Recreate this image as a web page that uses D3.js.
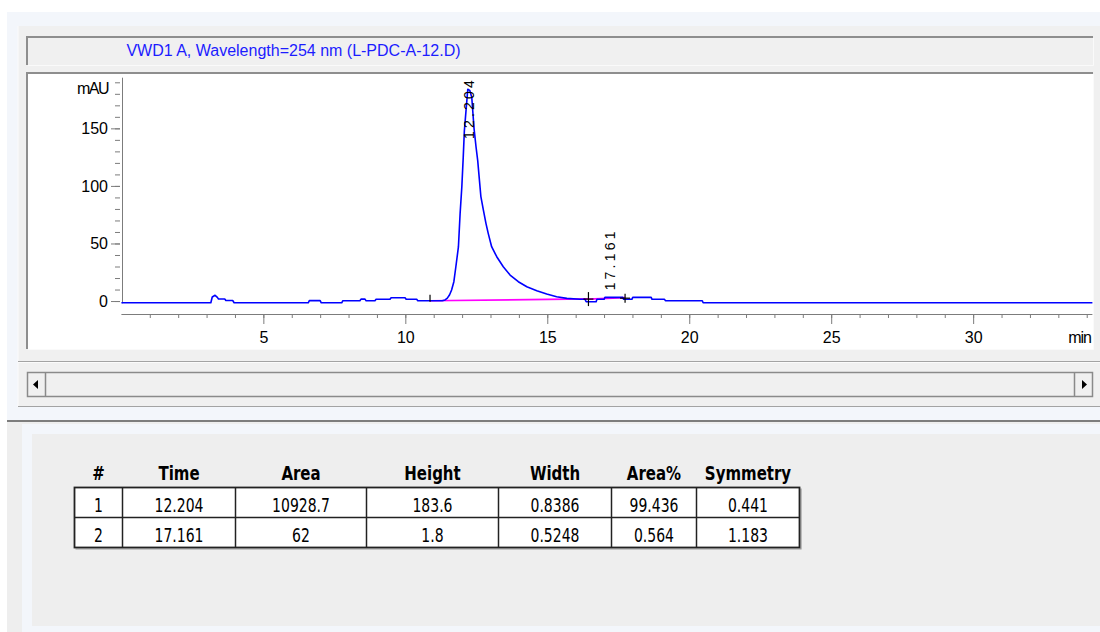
<!DOCTYPE html>
<html>
<head>
<meta charset="utf-8">
<script src="https://cdn.jsdelivr.net/npm/d3@7"></script>
<style>
  html, body { margin: 0; padding: 0; background: #ffffff; }
  svg { display: block; }
  .ax text { font-family: "Liberation Sans", Arial, sans-serif; font-size: 16px; fill: #000; }
  .ax line, .ax path { stroke: #7c7c7c; }
</style>
</head>
<body>
<svg id="chart" width="1100" height="632"></svg>
<script>
// ---- chromatogram trace: VWD1 A, 254 nm ----
const traceTime = [
  0, 3.15, 3.2, 3.3, 3.38, 3.42, 3.64, 3.68, 3.92, 3.97,
  6.58, 6.62, 7.0, 7.04, 7.76, 7.8, 8.4, 8.44, 8.58, 8.62,
  8.93, 8.97, 9.46, 9.5, 9.99, 10.03, 10.4, 10.44, 11.3, 11.4,
  11.48, 11.56, 11.63, 11.71, 11.78, 11.87, 11.93, 11.99, 12.04, 12.08,
  12.14, 12.2, 12.27, 12.34, 12.42, 12.49, 12.55, 12.61, 12.66, 12.75,
  12.84, 12.92, 13.04, 13.22, 13.45, 13.69, 13.98, 14.28, 14.63, 14.98,
  15.33, 15.69, 16.15, 16.33, 16.37, 16.72, 16.75, 17.0, 17.03, 17.66,
  17.69, 17.98, 18.01, 18.66, 18.69, 19.13, 19.16, 20.46, 20.49, 34.2
];
const traceMAU = [
  -1.5, -1.5, 3.5, 5.0, 3.2, 1.8, 1.8, 0.5, 0.5, -1.5,
  -1.5, 0.4, 0.4, -1.5, -1.5, 0.3, 0.3, 1.7, 1.7, 0.2,
  0.2, 1.5, 1.5, 2.9, 2.9, 1.5, 1.5, 0.2, 0.2, 1.0,
  2.5, 5.5, 9.6, 16.8, 29.8, 47, 76, 99, 125, 148,
  166, 184, 183, 177, 150, 134, 122, 105, 91, 79,
  67.5, 58.8, 47.2, 38.5, 29.8, 22.6, 16.8, 12.4, 9.0, 6.1,
  3.7, 2.3, 1.5, 1.5, -0.6, -0.6, 1.5, 1.5, 3.2, 3.2,
  1.5, 1.5, 3.2, 3.2, 1.5, 1.5, 0.3, 0.3, -1.5, -1.5
];

// ---- integration results ----
const peakNo = [1, 2];
const peakTime = [12.204, 17.161];
const peakArea = [10928.7, 62];
const peakHeight = [183.6, 1.8];
const peakWidth = [0.8386, 0.5248];
const peakAreaPct = [99.436, 0.564];
const peakSymmetry = [0.441, 1.183];

// integration baselines (start/end time, start/end mAU)
const baseStartT = [10.87, 16.45];
const baseEndT = [16.45, 17.74];
const baseStartV = [0.2, 1.7];
const baseEndV = [1.9, 3.0];

// axis ticks
const xMajorTicks = [5, 10, 15, 20, 25, 30];
const xMinorTicks = d3.range(1, 35, 1);
const yMajorTicks = [0, 50, 100, 150];
const yMinorTicks = d3.range(0, 200, 10);

const tableHeaders = ["#", "Time", "Area", "Height", "Width", "Area%", "Symmetry"];

const titleText = "VWD1 A, Wavelength=254 nm (L-PDC-A-12.D)";

// ---------------------------------------------------------------
const svg = d3.select("#chart");

// window / panel chrome
svg.append("rect").attr("x", 7).attr("y", 12).attr("width", 1093).attr("height", 410).attr("fill", "#f3f6fb");
svg.append("rect").attr("x", 18).attr("y", 26).attr("width", 1082).attr("height", 381).attr("fill", "#f0f0f0");
svg.append("line").attr("x1", 18).attr("x2", 18).attr("y1", 26).attr("y2", 407).attr("stroke", "#fbfbfb");

// sunken box helper
function sunken(x, y, w, h, fill) {
  svg.append("rect").attr("x", x).attr("y", y).attr("width", w).attr("height", h).attr("fill", fill);
  svg.append("path").attr("d", `M${x + w},${y + 1}H${x + 1}V${y + h}`)
    .attr("fill", "none").attr("stroke", "#8e8e8e").attr("stroke-width", 2);
  svg.append("path").attr("d", `M${x + 2},${y + h + 0.5}H${x + w + 0.5}V${y + 2}`)
    .attr("fill", "none").attr("stroke", "#fafafa").attr("stroke-width", 1);
}

// title strip
sunken(26, 36, 1067, 29, "#f0f0f0");
svg.append("text")
  .attr("x", 293.5).attr("y", 56)
  .attr("text-anchor", "middle")
  .attr("font-family", "Liberation Sans, Arial, sans-serif")
  .attr("font-size", 16)
  .attr("fill", "#1c1cff")
  .text(titleText);

// plot panel
sunken(26, 72, 1067, 277, "#ffffff");

// separators and scrollbar
svg.append("line").attr("x1", 18).attr("x2", 1100).attr("y1", 361.5).attr("y2", 361.5).attr("stroke", "#a3a3a3");
svg.append("line").attr("x1", 18).attr("x2", 1100).attr("y1", 362.5).attr("y2", 362.5).attr("stroke", "#fbfbfb");
svg.append("rect").attr("x", 27.5).attr("y", 372.5).attr("width", 1065).attr("height", 24)
  .attr("fill", "#f0f0f0").attr("stroke", "#8a8a8a").attr("stroke-width", 1.5);
svg.append("line").attr("x1", 45.5).attr("x2", 45.5).attr("y1", 373).attr("y2", 396).attr("stroke", "#8a8a8a").attr("stroke-width", 1.5);
svg.append("line").attr("x1", 1074.5).attr("x2", 1074.5).attr("y1", 373).attr("y2", 396).attr("stroke", "#8a8a8a").attr("stroke-width", 1.5);
svg.append("path").attr("d", "M33,384.5L38,380V389Z").attr("fill", "#000");
svg.append("path").attr("d", "M1087,384.5L1082,380V389Z").attr("fill", "#000");
svg.append("line").attr("x1", 18).attr("x2", 1100).attr("y1", 406.5).attr("y2", 406.5).attr("stroke", "#a3a3a3");
svg.append("line").attr("x1", 7).attr("x2", 1100).attr("y1", 421).attr("y2", 421).attr("stroke", "#7d7d7d").attr("stroke-width", 2);

// lower (results) panel
svg.append("rect").attr("x", 7).attr("y", 422).attr("width", 1093).attr("height", 210).attr("fill", "#eeeeee");
svg.append("rect").attr("x", 22).attr("y", 424).attr("width", 1078).attr("height", 208).attr("fill", "#f3f6fb");
svg.append("rect").attr("x", 32).attr("y", 434).attr("width", 1068).attr("height", 192).attr("fill", "#eeeeee");

// ---------------------------------------------------------------
// scales
const x = d3.scaleLinear().domain([0, 34.2]).range([121.4, 1092.4]);
const y = d3.scaleLinear().domain([-3, 194]).range([304.5, 77.7]);

const xAxisY = 314;
const yAxisX = 120;

// y axis: minor and major ticks, then the axis line
const gyMinor = svg.append("g").attr("class", "ax").attr("transform", `translate(${yAxisX},0)`)
  .call(d3.axisLeft(y).tickValues(yMinorTicks).tickSize(5).tickFormat(""));
gyMinor.select(".domain").remove();
const gyMajor = svg.append("g").attr("class", "ax").attr("transform", `translate(${yAxisX},0)`)
  .call(d3.axisLeft(y).tickValues(yMajorTicks).tickSize(9).tickPadding(3));
gyMajor.select(".domain").remove();
svg.append("line").attr("x1", 122.5).attr("x2", 122.5)
  .attr("y1", y.range()[1]).attr("y2", y(-2)).attr("stroke", "#7c7c7c");
svg.append("text").attr("class", "ax")
  .attr("x", 108).attr("y", 94).attr("text-anchor", "end")
  .attr("font-family", "Liberation Sans, Arial, sans-serif").attr("font-size", 16)
  .attr("letter-spacing", -1.5)
  .text("mAU");

// x axis
const gxMinor = svg.append("g").attr("class", "ax").attr("transform", `translate(0,${xAxisY})`)
  .call(d3.axisBottom(x).tickValues(xMinorTicks).tickSize(4).tickFormat(""));
gxMinor.select(".domain").remove();
const gxMajor = svg.append("g").attr("class", "ax").attr("transform", `translate(0,${xAxisY})`)
  .call(d3.axisBottom(x).tickValues(xMajorTicks).tickSize(10).tickPadding(8).tickFormat(d3.format("d")));
gxMajor.select(".domain").remove();
svg.append("line").attr("x1", x.range()[0]).attr("x2", x.range()[1])
  .attr("y1", xAxisY + 0.5).attr("y2", xAxisY + 0.5).attr("stroke", "#7c7c7c");
svg.append("text").attr("class", "ax")
  .attr("x", 1091).attr("y", 343).attr("text-anchor", "end")
  .attr("font-family", "Liberation Sans, Arial, sans-serif").attr("font-size", 16)
  .attr("letter-spacing", -1)
  .text("min");

// ---------------------------------------------------------------
// integration baselines
const baseSegs = baseStartT.map((t, i) => [[t, baseStartV[i]], [baseEndT[i], baseEndV[i]]]);
const segLine = d3.line().x(d => x(d[0])).y(d => y(d[1]));
svg.append("g").selectAll("path").data(baseSegs).join("path")
  .attr("d", segLine)
  .attr("fill", "none").attr("stroke", "#ff00ff").attr("stroke-width", 1.6);

// signal trace
const trace = traceTime.map((t, i) => [t, traceMAU[i]]);
svg.append("path").datum(trace)
  .attr("d", d3.line().x(d => x(d[0])).y(d => y(d[1])))
  .attr("fill", "none").attr("stroke", "#0000ff").attr("stroke-width", 1.6)
  .attr("stroke-linejoin", "round");

// peak start / end markers
const marks = svg.append("g").attr("stroke", "#000").attr("stroke-width", 1.2);
baseStartT.forEach((t, i) => {
  const px = x(t), py = y(baseStartV[i]);
  if (i === 0) {
    marks.append("line").attr("x1", px).attr("x2", px).attr("y1", py - 6).attr("y2", py + 1);
  }
});
baseEndT.forEach((t, i) => {
  const px = x(t), py = y(baseEndV[i] - (i === 0 ? 0.2 : 0.5));
  const h = i === 0 ? 7 : 4.5;
  marks.append("line").attr("x1", px).attr("x2", px).attr("y1", py - h).attr("y2", py + h);
  marks.append("line").attr("x1", px - 5).attr("x2", px + 5).attr("y1", py).attr("y2", py);
});

// retention time labels, rotated, placed above each apex (kept inside the plot)
const plotTop = 75;
peakTime.forEach((rt, i) => {
  // highest trace point near the retention time
  const near = trace.filter(d => Math.abs(d[0] - rt) < 0.6);
  const apex = d3.max(near, d => d[1]);
  const label = svg.append("text")
    .attr("font-family", "Liberation Sans, Arial, sans-serif")
    .attr("font-size", 14)
    .attr("letter-spacing", 3.2)
    .attr("fill", "#000")
    .attr("dy", "0.36em")
    .text(rt.toFixed(3));
  const len = label.node().getComputedTextLength();
  const bottom = Math.max(y(apex) - 7, plotTop + len + 2);
  label.attr("transform", `translate(${x(rt) + 1},${bottom}) rotate(-90)`);
});

// ---------------------------------------------------------------
// results table
const colEdges = [74.5, 122.5, 235.5, 366.5, 498.5, 611.5, 696.5, 799.5];
const rowEdges = [487.5, 517.5, 547.5];
const tableRows = peakNo.map((n, i) => [
  String(n),
  peakTime[i].toFixed(3),
  String(peakArea[i]),
  String(peakHeight[i]),
  peakWidth[i].toFixed(4),
  peakAreaPct[i].toFixed(3),
  peakSymmetry[i].toFixed(3)
]);
const colMid = i => (colEdges[i] + colEdges[i + 1]) / 2;

const tbl = svg.append("g");
tbl.append("rect")
  .attr("x", colEdges[0]).attr("y", rowEdges[0])
  .attr("width", colEdges[colEdges.length - 1] - colEdges[0])
  .attr("height", rowEdges[rowEdges.length - 1] - rowEdges[0])
  .attr("fill", "#ffffff");
// soft shadow along bottom and right
tbl.append("path")
  .attr("d", `M${colEdges[0] + 1},${rowEdges[2] + 1.5}H${colEdges[7] + 1.5}V${rowEdges[0] + 1}`)
  .attr("fill", "none").attr("stroke", "#9a9a9a").attr("stroke-width", 1.2);
tbl.append("rect")
  .attr("x", colEdges[0]).attr("y", rowEdges[0])
  .attr("width", colEdges[colEdges.length - 1] - colEdges[0])
  .attr("height", rowEdges[rowEdges.length - 1] - rowEdges[0])
  .attr("fill", "none").attr("stroke", "#222").attr("stroke-width", 1.8);
tbl.selectAll("line.v").data(colEdges.slice(1, -1)).join("line")
  .attr("x1", d => d).attr("x2", d => d)
  .attr("y1", rowEdges[0]).attr("y2", rowEdges[2])
  .attr("stroke", "#222").attr("stroke-width", 1.5);
tbl.append("line")
  .attr("x1", colEdges[0]).attr("x2", colEdges[7])
  .attr("y1", rowEdges[1]).attr("y2", rowEdges[1])
  .attr("stroke", "#222").attr("stroke-width", 1.5);

tbl.selectAll("text.h").data(tableHeaders).join("text")
  .attr("transform", (d, i) => `translate(${colMid(i)},480) scale(1,1.35)`)
  .attr("text-anchor", "middle")
  .attr("font-family", "DejaVu Sans, Verdana, sans-serif")
  .attr("font-weight", "bold")
  .attr("font-size", 15)
  .attr("fill", "#000")
  .text(d => d);

tableRows.forEach((row, r) => {
  tbl.selectAll(`text.r${r}`).data(row).join("text")
    .attr("transform", (d, i) => `translate(${colMid(i)},${511.5 + r * 30}) scale(1,1.42)`)
    .attr("text-anchor", "middle")
    .attr("font-family", "DejaVu Sans, Verdana, sans-serif")
    .attr("font-size", 14)
    .attr("fill", "#000")
    .text(d => d);
});
</script>
</body>
</html>
